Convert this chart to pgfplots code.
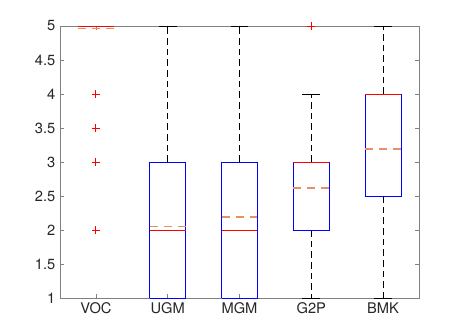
\documentclass[border=0pt]{standalone}
\usepackage{pgfplots}
\pgfplotsset{compat=1.18}
\usepackage{fontspec}
\setmainfont{TeX Gyre Heros}
\definecolor{meancol}{RGB}{228,145,105}
\definecolor{axcol}{RGB}{128,128,128}
\definecolor{labcol}{RGB}{38,38,38}
\begin{document}
\begin{tikzpicture}
\begin{axis}[
    scale only axis,
    width=269.25pt,
    height=204pt,
    xmin=0.5, xmax=5.5,
    ymin=1, ymax=5,
    xtick={1,2,3,4,5},
    xticklabels={VOC,UGM,MGM,G2P,BMK},
    ytick={1,1.5,2,2.5,3,3.5,4,4.5,5},
    tick align=inside,
    major tick length=3pt,
    axis line style={axcol, line width=0.6pt},
    every tick/.style={axcol, line width=0.6pt},
    ticklabel style={font=\fontsize{11}{13}\selectfont, text=labcol},
    /pgf/number format/assume math mode=true,
    clip=false,
    whiskerline/.style={draw=black, line width=0.7pt, dash pattern=on 5pt off 3pt},
    capline/.style={draw=black, line width=0.7pt},
    boxline/.style={draw=blue, line width=0.7pt},
    medianline/.style={draw=red, line width=0.7pt},
    meanline/.style={draw=meancol, line width=1.1pt, dash pattern=on 6pt off 4.5pt},
    outlier/.style={only marks, mark=+, mark size=3pt, red, mark options={draw=red, line width=0.7pt}},
]
% whiskers and caps
\addplot[whiskerline] coordinates {(2,3) (2,5)};
\addplot[whiskerline] coordinates {(3,3) (3,5)};
\addplot[whiskerline] coordinates {(4,3) (4,4)};
\addplot[whiskerline] coordinates {(4,2) (4,1)};
\addplot[whiskerline] coordinates {(5,4) (5,5)};
\addplot[whiskerline] coordinates {(5,2.5) (5,1)};
\addplot[capline] coordinates {(1.875,5) (2.125,5)};
\addplot[capline] coordinates {(2.875,5) (3.125,5)};
\addplot[capline] coordinates {(3.875,4) (4.125,4)};
\addplot[capline] coordinates {(3.875,1) (4.125,1)};
\addplot[capline] coordinates {(4.875,5) (5.125,5)};
\addplot[capline] coordinates {(4.875,1) (5.125,1)};
% boxes
\addplot[boxline] coordinates {(1.75,1) (2.25,1) (2.25,3) (1.75,3) (1.75,1)};
\addplot[boxline] coordinates {(2.75,1) (3.25,1) (3.25,3) (2.75,3) (2.75,1)};
\addplot[boxline] coordinates {(3.75,2) (4.25,2) (4.25,3) (3.75,3) (3.75,2)};
\addplot[boxline] coordinates {(4.75,2.5) (5.25,2.5) (5.25,4) (4.75,4) (4.75,2.5)};
% medians
\addplot[medianline] coordinates {(0.75,5) (1.25,5)};
\addplot[medianline] coordinates {(1.75,2) (2.25,2)};
\addplot[medianline] coordinates {(2.75,2) (3.25,2)};
\addplot[medianline] coordinates {(3.75,3) (4.25,3)};
\addplot[medianline] coordinates {(4.75,4) (5.25,4)};
% means
\addplot[meanline] coordinates {(0.75,4.96) (1.25,4.96)};
\addplot[meanline] coordinates {(1.75,2.05) (2.25,2.05)};
\addplot[meanline] coordinates {(2.75,2.19) (3.25,2.19)};
\addplot[meanline] coordinates {(3.75,2.615) (4.25,2.615)};
\addplot[meanline] coordinates {(4.75,3.19) (5.25,3.19)};
% outliers
\addplot[outlier] coordinates {(1,4) (1,3.5) (1,3) (1,2)};
\addplot[outlier] coordinates {(4,5)};
\end{axis}
\pgfresetboundingbox
\path[use as bounding box] ([shift={(-45pt,-27.75pt)}]current axis.south west) rectangle ([shift={(33pt,19.5pt)}]current axis.north east);
\end{tikzpicture}
\end{document}
